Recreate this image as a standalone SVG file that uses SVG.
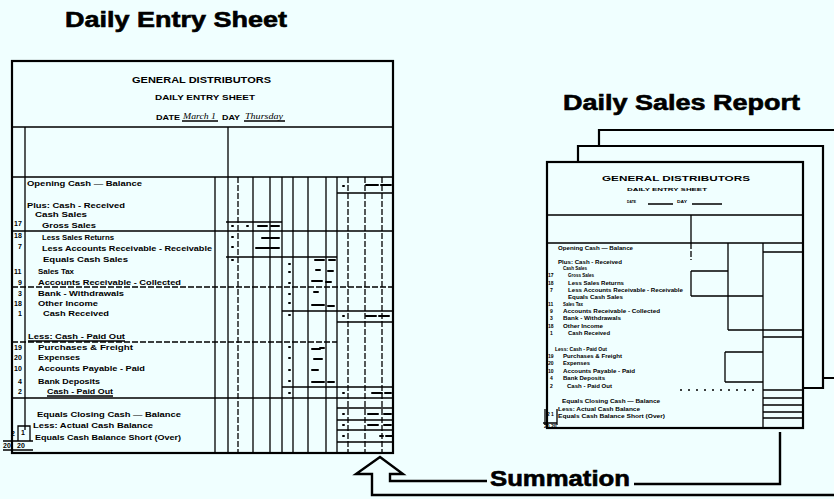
<svg xmlns="http://www.w3.org/2000/svg" width="834" height="499" viewBox="0 0 834 499">
<defs>
<style>
.t{font-family:"Liberation Sans",Arial,Helvetica,sans-serif;font-weight:bold;fill:#000}
.ttl{font-size:22px;stroke:#000;stroke-width:0.6}
.hd{font-size:9px}
.lb{font-size:8px}
.nm{font-size:7px}
.tn{font-size:5px}
.hw{font-family:"Liberation Serif","Times New Roman",serif;font-style:italic;font-size:8px;fill:#000}
.ln{stroke:#000;stroke-width:1.3;fill:none}
.bd{stroke:#000;stroke-width:2.2;fill:none}
.ds{stroke-dasharray:6 2}
.dt{stroke-dasharray:2 6}
.ink{stroke:#000;stroke-width:2;fill:none;stroke-linecap:round}
.cn{stroke:#000;stroke-width:2.4;fill:none;stroke-linejoin:miter}
</style>
</defs>
<rect width="834" height="499" fill="#F0FFFF"/>

<g id="title-entry">
<text class="t ttl" x="65" y="27" textLength="222" lengthAdjust="spacingAndGlyphs">Daily Entry Sheet</text>
</g>

<g id="entry-sheet">
<rect x="12" y="61" width="381" height="392" class="bd"/>
<text class="t hd" x="132" y="83" textLength="139" lengthAdjust="spacingAndGlyphs">GENERAL DISTRIBUTORS</text>
<text class="t nm" x="155" y="100" font-size="6.5" textLength="100" lengthAdjust="spacingAndGlyphs">DAILY ENTRY SHEET</text>
<text class="t nm" x="156" y="120" textLength="24" lengthAdjust="spacingAndGlyphs">DATE</text>
<text class="hw" x="183" y="119" textLength="33" lengthAdjust="spacingAndGlyphs">March 1</text>
<path class="ln" d="M182 121H218 M244 121H285"/>
<text class="t nm" x="222" y="120" textLength="18" lengthAdjust="spacingAndGlyphs">DAY</text>
<text class="hw" x="245" y="119" textLength="38" lengthAdjust="spacingAndGlyphs">Thursday</text>

<path class="ln" d="M12 127H393 M12 177H393 M25 127V430 M228 127V453 M215 177V453"/>
<path class="ln" d="M253 177V453 M270 177V453 M282 177V453 M293 177V453 M308 177V453 M326 177V453 M337 177V453"/>
<path class="ln ds" d="M238 177V453 M348 177V453 M365 177V453 M382 177V453"/>
<path class="ln" d="M337 193H393 M226 222H282 M12 231H393 M226 257H337 M282 311H393 M337 322H393 M282 387H393 M12 398H393 M337 408H393 M337 420H393 M337 430H393 M337 442H393"/>
<path class="ln ds" d="M12 287H393 M12 342H337"/>
<path class="ln" d="M28 341H125 M47 396H113"/>

<text class="t lb" x="27" y="186" textLength="115" lengthAdjust="spacingAndGlyphs">Opening Cash — Balance</text>
<text class="t lb" x="27" y="208" textLength="98" lengthAdjust="spacingAndGlyphs">Plus: Cash - Received</text>
<text class="t lb" x="35" y="217" textLength="52" lengthAdjust="spacingAndGlyphs">Cash Sales</text>
<text class="t lb" x="42" y="228" textLength="54" lengthAdjust="spacingAndGlyphs">Gross Sales</text>
<text class="t lb" x="42" y="240" textLength="72" lengthAdjust="spacingAndGlyphs">Less Sales Returns</text>
<text class="t lb" x="42" y="251" textLength="170" lengthAdjust="spacingAndGlyphs">Less Accounts Receivable - Receivable</text>
<text class="t lb" x="43" y="262" textLength="85" lengthAdjust="spacingAndGlyphs">Equals Cash Sales</text>
<text class="t lb" x="38" y="274" textLength="36" lengthAdjust="spacingAndGlyphs">Sales Tax</text>
<text class="t lb" x="38" y="285" textLength="143" lengthAdjust="spacingAndGlyphs">Accounts Receivable - Collected</text>
<text class="t lb" x="38" y="296" textLength="86" lengthAdjust="spacingAndGlyphs">Bank - Withdrawals</text>
<text class="t lb" x="38" y="306" textLength="60" lengthAdjust="spacingAndGlyphs">Other Income</text>
<text class="t lb" x="43" y="316" textLength="66" lengthAdjust="spacingAndGlyphs">Cash Received</text>
<text class="t lb" x="28" y="339" textLength="97" lengthAdjust="spacingAndGlyphs">Less: Cash - Paid Out</text>
<text class="t lb" x="38" y="350" textLength="95" lengthAdjust="spacingAndGlyphs">Purchases &amp; Freight</text>
<text class="t lb" x="38" y="360" textLength="42" lengthAdjust="spacingAndGlyphs">Expenses</text>
<text class="t lb" x="38" y="371" textLength="107" lengthAdjust="spacingAndGlyphs">Accounts Payable - Paid</text>
<text class="t lb" x="38" y="384" textLength="62" lengthAdjust="spacingAndGlyphs">Bank Deposits</text>
<text class="t lb" x="47" y="394" textLength="66" lengthAdjust="spacingAndGlyphs">Cash - Paid Out</text>
<text class="t lb" x="37" y="417" textLength="144" lengthAdjust="spacingAndGlyphs">Equals Closing Cash — Balance</text>
<text class="t lb" x="33" y="428" textLength="120" lengthAdjust="spacingAndGlyphs">Less: Actual Cash Balance</text>
<text class="t lb" x="35" y="440" textLength="146" lengthAdjust="spacingAndGlyphs">Equals Cash Balance Short (Over)</text>

<g class="t nm">
<text x="14" y="226">17</text>
<text x="14" y="238">18</text>
<text x="18" y="249">7</text>
<text x="14" y="274">11</text>
<text x="18" y="285">9</text>
<text x="18" y="296">3</text>
<text x="14" y="306">18</text>
<text x="18" y="316">1</text>
<text x="14" y="350">19</text>
<text x="14" y="360">20</text>
<text x="14" y="371">10</text>
<text x="18" y="384">4</text>
<text x="18" y="394">2</text>
<text x="11" y="436">2</text>
<text x="21" y="435">1</text>
<text x="3" y="448">20</text>
<text x="17" y="448">20</text>
</g>
<path class="ln" d="M18 426H30V441H18Z M3 441H33 M3 450H33"/>

<path class="ink" d="M232 226h1 M247 226h1 M258 226h9 M271 226h8 M232 237h1 M262 238h17 M232 247h1 M256 248h23 M232 260h1 M315 260h9 M329 260h6 M289 264h1 M316 270h4 M328 271h5 M289 272h1 M289 283h1 M312 281h10 M326 282h5 M289 294h1 M314 292h4 M289 303h1 M312 305h12 M328 306h6 M289 315h1 M343 316h1 M366 316h10 M379 316h10 M289 347h1 M312 349h8 M320 348h4 M289 358h1 M314 359h8 M289 370h1 M312 370h6 M289 381h1 M312 382h12 M328 382h6 M289 393h1 M343 393h1 M372 393h10 M385 393h6 M343 186h1 M366 185h12 M381 185h10 M343 414h1 M368 414h10 M384 414h7 M343 425h1 M368 425h10 M384 425h7 M343 436h1 M380 436h3 M386 436h6"/>
</g>

<g id="title-report">
<text class="t ttl" x="563" y="110" font-size="21" textLength="237" lengthAdjust="spacingAndGlyphs">Daily Sales Report</text>
</g>

<g id="report-stack">
<path class="bd" d="M599 146V130H834 M823 378H834"/>
<path class="bd" d="M578 162V146H823V388H803"/>
<rect x="547" y="162" width="256" height="266" class="bd"/>
<text class="t" x="602" y="181" font-size="8" textLength="148" lengthAdjust="spacingAndGlyphs">GENERAL DISTRIBUTORS</text>
<text class="t" x="627" y="191" font-size="4" textLength="80" lengthAdjust="spacingAndGlyphs">DAILY ENTRY SHEET</text>
<text class="t" x="627" y="203" font-size="4" textLength="9" lengthAdjust="spacingAndGlyphs">DATE</text>
<text class="t" x="677" y="203" font-size="4" textLength="10" lengthAdjust="spacingAndGlyphs">DAY</text>
<path class="ln" d="M648 204H673 M692 204H722"/>
<path class="ln" d="M547 215H803 M547 243H803 M691 215V243 M691 271H728 M691 271V296 M691 296H763 M728 243V330 M728 330H803 M763 243V428 M763 252H803 M763 337H803 M725 352H763 M725 352V382 M725 382H763 M763 390H803 M763 398H803 M763 405H803 M763 412H803 M763 418H803 M543 423H557 M545 409V425 M557 409V425"/>
<path class="ln ds" d="M691 243V260"/>
<path class="ln dt" d="M680 390H760"/>
<text class="t tn" x="558" y="250" textLength="75" lengthAdjust="spacingAndGlyphs">Opening Cash — Balance</text>
<text class="t tn" x="558" y="264" textLength="64" lengthAdjust="spacingAndGlyphs">Plus: Cash - Received</text>
<text class="t tn" x="563" y="270" textLength="24" lengthAdjust="spacingAndGlyphs">Cash Sales</text>
<text class="t tn" x="568" y="277" textLength="26" lengthAdjust="spacingAndGlyphs">Gross Sales</text>
<text class="t tn" x="568" y="285" textLength="56" lengthAdjust="spacingAndGlyphs">Less Sales Returns</text>
<text class="t tn" x="568" y="292" textLength="115" lengthAdjust="spacingAndGlyphs">Less Accounts Receivable - Receivable</text>
<text class="t tn" x="568" y="299" textLength="55" lengthAdjust="spacingAndGlyphs">Equals Cash Sales</text>
<text class="t tn" x="563" y="306" textLength="20" lengthAdjust="spacingAndGlyphs">Sales Tax</text>
<text class="t tn" x="563" y="313" textLength="97" lengthAdjust="spacingAndGlyphs">Accounts Receivable - Collected</text>
<text class="t tn" x="563" y="320" textLength="58" lengthAdjust="spacingAndGlyphs">Bank - Withdrawals</text>
<text class="t tn" x="563" y="328" textLength="40" lengthAdjust="spacingAndGlyphs">Other Income</text>
<text class="t tn" x="568" y="335" textLength="42" lengthAdjust="spacingAndGlyphs">Cash Received</text>
<text class="t tn" x="555" y="351" textLength="52" lengthAdjust="spacingAndGlyphs">Less: Cash - Paid Out</text>
<text class="t tn" x="563" y="358" textLength="59" lengthAdjust="spacingAndGlyphs">Purchases &amp; Freight</text>
<text class="t tn" x="563" y="365" textLength="27" lengthAdjust="spacingAndGlyphs">Expenses</text>
<text class="t tn" x="563" y="373" textLength="72" lengthAdjust="spacingAndGlyphs">Accounts Payable - Paid</text>
<text class="t tn" x="563" y="380" textLength="42" lengthAdjust="spacingAndGlyphs">Bank Deposits</text>
<text class="t tn" x="567" y="388" textLength="45" lengthAdjust="spacingAndGlyphs">Cash - Paid Out</text>
<text class="t tn" x="562" y="403" textLength="98" lengthAdjust="spacingAndGlyphs">Equals Closing Cash — Balance</text>
<text class="t tn" x="558" y="411" textLength="82" lengthAdjust="spacingAndGlyphs">Less: Actual Cash Balance</text>
<text class="t tn" x="558" y="418" textLength="107" lengthAdjust="spacingAndGlyphs">Equals Cash Balance Short (Over)</text>
<g class="t tn">
<text x="548" y="277">17</text>
<text x="548" y="285">18</text>
<text x="550" y="292">7</text>
<text x="548" y="306">11</text>
<text x="550" y="313">9</text>
<text x="550" y="320">3</text>
<text x="548" y="328">18</text>
<text x="550" y="335">1</text>
<text x="548" y="358">19</text>
<text x="548" y="365">20</text>
<text x="548" y="373">10</text>
<text x="550" y="380">4</text>
<text x="550" y="388">2</text>
<text x="547" y="416">2</text>
<text x="551" y="416">1</text>
<text x="544" y="428">20</text>
<text x="551" y="428">20</text>
</g>
</g>

<g id="summation">
<text class="t ttl" x="490" y="486" font-size="23" textLength="140" lengthAdjust="spacingAndGlyphs">Summation</text>
</g>

<g id="connectors">
<path class="cn" d="M780 432V484H634"/>
<path class="cn" d="M487 481H390V474H403L380 457L356 474H372V495H834"/>
</g>
</svg>
